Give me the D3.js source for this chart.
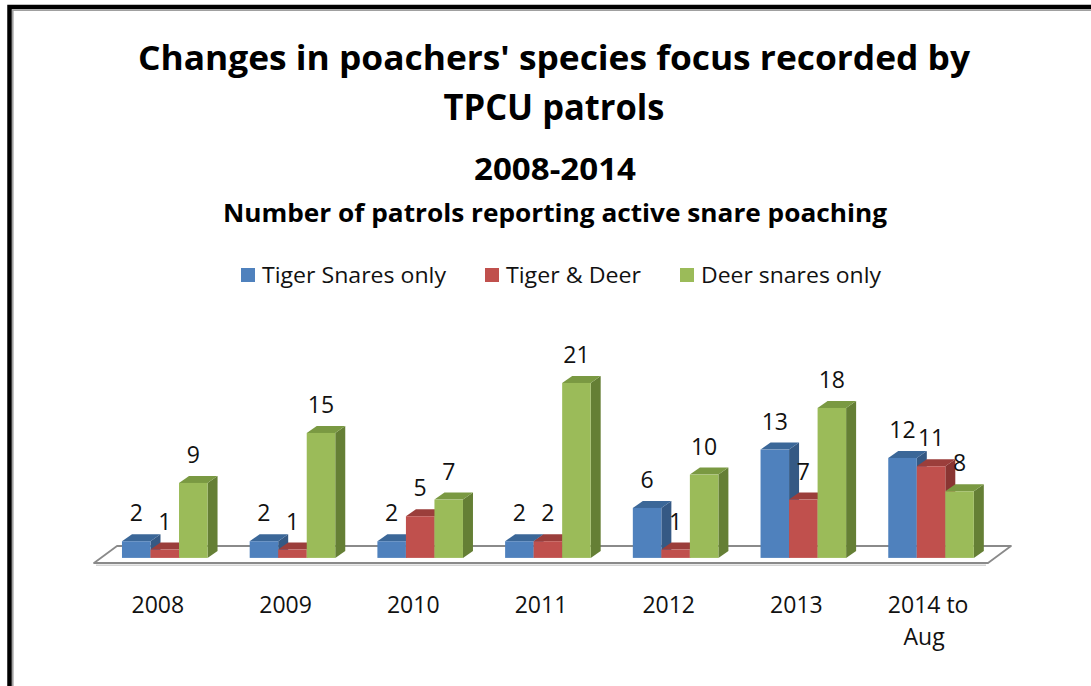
<!DOCTYPE html>
<html>
<head>
<meta charset="utf-8">
<script src="https://cdn.jsdelivr.net/npm/d3@7"></script>
<style>
  html, body { margin: 0; padding: 0; background: #fff; }
  svg { display: block; font-family: "Open Sans", "Liberation Sans", sans-serif; }
</style>
</head>
<body>
<svg id="chart" width="1091" height="686"></svg>
<script>
// Patrols reporting active snare poaching, by year
const categories = ["2008", "2009", "2010", "2011", "2012", "2013", "2014 to Aug"];
const seriesNames = ["Tiger Snares only", "Tiger & Deer", "Deer snares only"];
const tigerSnaresOnly = [2, 2, 2, 2, 6, 13, 12];
const tigerAndDeer    = [1, 1, 5, 2, 1, 7, 11];
const deerSnaresOnly  = [9, 15, 7, 21, 10, 18, 8];

const titleLines = ["Changes in poachers' species focus recorded by", "TPCU patrols"];
const periodTitle = "2008-2014";
const subTitle = "Number of patrols reporting active snare poaching";

const seriesValues = [tigerSnaresOnly, tigerAndDeer, deerSnaresOnly];
const palette = [
  { front: "#4F81BD", top: "#3B6798", side: "#355984" },
  { front: "#C0504D", top: "#9B3E3B", side: "#893532" },
  { front: "#9BBB59", top: "#7A9942", side: "#657F35" }
];

const svg = d3.select("#chart");

// Stretch or squeeze a text element so it spans the given width
function fitWidth(sel, w) {
  sel.each(function () {
    const n = this.getComputedTextLength();
    if (Math.abs(n - w) > 1) {
      d3.select(this).attr("textLength", w).attr("lengthAdjust", "spacingAndGlyphs");
    }
  });
}

// Frame: heavy black edge on top and left, thin grey inner line
svg.append("path").attr("d", "M9.5,686 V7 H1091").attr("fill", "none")
  .attr("stroke", "#000").attr("stroke-width", 4.5);
svg.append("path").attr("d", "M12.8,686 V10.3 H1091").attr("fill", "none")
  .attr("stroke", "#a0a0a0").attr("stroke-width", 1.6);

// Titles
const cx = 554;
svg.append("text").attr("x", cx).attr("y", 70).attr("text-anchor", "middle")
  .attr("font-weight", "bold").attr("font-size", 34).attr("fill", "#000")
  .text(titleLines[0]).call(fitWidth, 832);
svg.append("text").attr("x", cx).attr("y", 120).attr("text-anchor", "middle")
  .attr("font-weight", "bold").attr("font-size", 35).attr("fill", "#000")
  .text(titleLines[1]).call(fitWidth, 221);
svg.append("text").attr("x", cx + 1).attr("y", 180).attr("text-anchor", "middle")
  .attr("font-weight", "bold").attr("font-size", 30).attr("fill", "#000")
  .text(periodTitle).call(fitWidth, 162);
svg.append("text").attr("x", cx + 1).attr("y", 222).attr("text-anchor", "middle")
  .attr("font-weight", "bold").attr("font-size", 25).attr("fill", "#000")
  .text(subTitle).call(fitWidth, 664);

// Legend
const legendTextW = [184, 135, 180];
const sw = 14, swGap = 7, itemGap = 39;
const legendTotal = d3.sum(legendTextW) + 3 * (sw + swGap) + 2 * itemGap;
let lx = 561 - legendTotal / 2;
const legendY = 283;
const legend = svg.append("g");
seriesNames.forEach((name, i) => {
  legend.append("rect").attr("x", lx).attr("y", legendY - 15).attr("width", sw).attr("height", sw)
    .attr("fill", palette[i].front);
  legend.append("text").attr("x", lx + sw + swGap).attr("y", legendY)
    .attr("font-size", 21).attr("fill", "#111").text(name).call(fitWidth, legendTextW[i]);
  lx += sw + swGap + legendTextW[i] + itemGap;
});

// 3D geometry: floor plate and bar depth offsets
const floor = { x0: 94, x1: 988, yFront: 563, depthX: 23, depthY: -17 };
const barDepth = { dx: 10, dy: -7 };
const depthFrac = 0.3; // bars stand a little behind the front edge of the floor
const baseY = floor.yFront + floor.depthY * depthFrac;
const shiftX = floor.depthX * depthFrac;

// Category scale along the front edge of the floor (used for axis labels)
const xFloor = d3.scaleBand().domain(categories).range([floor.x0, floor.x1]);
// Category scale for bar clusters, shifted into the floor depth
const x0 = d3.scaleBand().domain(categories)
  .range([floor.x0 + shiftX, floor.x1 + shiftX])
  .paddingInner(0.33).paddingOuter(0.165);
const x1 = d3.scaleBand().domain(d3.range(seriesNames.length)).range([0, x0.bandwidth()]);
const y = d3.scaleLinear().domain([0, 25]).range([baseY, baseY - 25 * 8.33]);

// Floor
const f = floor;
svg.append("path")
  .attr("d", `M${f.x0},${f.yFront} L${f.x1},${f.yFront} L${f.x1 + f.depthX},${f.yFront + f.depthY} L${f.x0 + f.depthX},${f.yFront + f.depthY} Z`)
  .attr("fill", "#fff").attr("stroke", "#8a8a8a").attr("stroke-width", 1.8).attr("stroke-linejoin", "round");
svg.append("line").attr("x1", f.x0 + 2).attr("x2", f.x1 - 2).attr("y1", f.yFront + 2.2).attr("y2", f.yFront + 2.2)
  .attr("stroke", "#d4d4d4").attr("stroke-width", 1.4);

// Bars
const bars = [];
categories.forEach((c, ci) => {
  seriesValues.forEach((vals, si) => {
    bars.push({ cat: c, s: si, v: vals[ci] });
  });
});

const gBars = svg.append("g");
const dx = barDepth.dx, dy = barDepth.dy;
bars.forEach(b => {
  const xa = x0(b.cat) + x1(b.s);
  const xb = xa + x1.bandwidth();
  const yt = y(b.v);
  const c = palette[b.s];
  const g = gBars.append("g");
  g.append("path")
    .attr("d", `M${xb},${yt} L${xb + dx},${yt + dy} L${xb + dx},${baseY + dy} L${xb},${baseY} Z`)
    .attr("fill", c.side);
  g.append("path")
    .attr("d", `M${xa},${yt} L${xa + dx},${yt + dy} L${xb + dx},${yt + dy} L${xb},${yt} Z`)
    .attr("fill", c.top);
  g.append("rect").attr("x", xa).attr("y", yt).attr("width", xb - xa).attr("height", baseY - yt)
    .attr("fill", c.front);
});

// Value labels
svg.append("g").selectAll("text").data(bars).join("text")
  .attr("x", b => x0(b.cat) + x1(b.s) + x1.bandwidth() / 2)
  .attr("y", b => y(b.v) - 20)
  .attr("text-anchor", "middle")
  .attr("font-size", 23)
  .attr("fill", "#111")
  .text(b => b.v);

// Category labels, wrapped to short lines
function wrapLabel(s) {
  const words = s.split(" ");
  const lines = [];
  let cur = "";
  words.forEach(w => {
    const t = cur ? cur + " " + w : w;
    if (t.length > 7 && cur) { lines.push(cur); cur = w; } else { cur = t; }
  });
  if (cur) lines.push(cur);
  return lines;
}
const axisG = svg.append("g");
categories.forEach(c => {
  const t = axisG.append("text")
    .attr("x", xFloor(c) + xFloor.bandwidth() / 2)
    .attr("y", 613)
    .attr("text-anchor", "middle")
    .attr("font-size", 23)
    .attr("fill", "#111");
  wrapLabel(c).forEach((line, i) => {
    t.append("tspan").attr("x", xFloor(c) + xFloor.bandwidth() / 2 + (i === 0 && line.length > 4 ? 4 : 0))
      .attr("dy", i === 0 ? 0 : 32).text(line);
  });
});
</script>
</body>
</html>
